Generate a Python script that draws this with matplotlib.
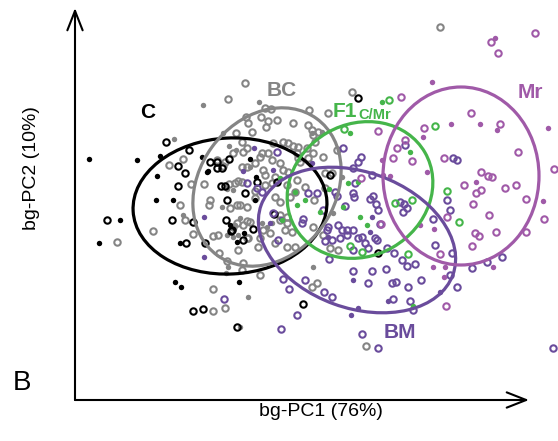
import numpy as np
import matplotlib
matplotlib.use('Agg')
import matplotlib.pyplot as plt
from matplotlib.patches import Ellipse, FancyArrowPatch

plt.rcParams['font.family'] = ['Liberation Sans', 'DejaVu Sans']

# bg-PCA scores (PC1, PC2), filled = one sex, open = the other
c_filled = [(-21.1, 7.1), (-16.3, 7.0), (-14.0, 7.4), (-9.8, 7.3), (-9.2, 5.9), (-14.3, 5.4),
            (-14.4, 3.0), (-12.7, 3.0), (-18.0, 1.0), (-20.1, -1.3), (-12.0, -1.3), (-6.3, -1.2),
            (-12.5, -5.2), (-11.9, -5.7), (-6.1, -5.2), (-5.0, 7.1), (-9.3, 5.8), (-4.4, 5.3),
            (-4.5, 3.0), (-7.0, 0.5), (-5.6, -0.3)]
c_open = [(-13.4, 8.8), (-11.1, 8.0), (-12.2, 6.4), (-11.5, 5.7), (-9.0, 6.8), (-8.3, 6.8),
          (-8.3, 6.2), (-7.8, 6.2), (-7.1, 7.1), (-12.2, 4.4), (-7.9, 4.4), (-7.5, 4.4),
          (-7.3, 3.0), (-19.3, 1.0), (-12.8, 1.0), (-10.7, 0.8), (-7.4, 1.0), (-6.9, -0.1),
          (-11.4, -1.3), (-9.5, -1.3), (-10.7, -8.1), (-9.7, -7.9), (-6.3, -9.7), (-6.8, 0.0),
          (-4.7, 0.1), (-5.7, -1.0), (-5.5, 3.7), (-4.3, 4.8), (-2.3, 4.8), (-2.6, 1.6),
          (0.3, -7.4), (3.0, 5.5), (5.8, 13.2), (7.8, -2.3)]

bc_filled = [(-12.6, 9.1), (-9.7, 12.5), (-7.1, 8.4), (-7.7, 9.7), (-7.3, 4.1), (-11.7, 1.5),
             (-6.5, 0.5), (-7.3, -0.5), (-7.2, -3.7), (-7.4, -4.3), (-6.4, 8.0), (-5.0, 6.3),
             (-6.7, 4.0), (-7.8, 2.3), (-6.0, 1.2), (-6.2, -0.5), (-6.7, -0.7), (-4.1, 12.8),
             (1.2, 9.7), (2.2, 9.8), (4.2, 5.3), (3.3, 1.7), (-2.8, 0.7), (-3.8, 0.7),
             (-3.3, 0.3), (1.3, -3.7), (-5.2, -6.7), (-6.0, -9.7)]
bc_open = [(-7.2, 13.1), (-11.7, 7.1), (-13.1, 6.5), (-8.3, 7.0), (-7.5, 6.8), (-7.7, 6.4),
           (-6.7, 7.7), (-6.4, 9.7), (-10.9, 4.6), (-9.6, 4.6), (-6.5, 4.7), (-6.2, 4.9),
           (-12.0, 2.5), (-9.0, 3.0), (-9.1, 2.5), (-6.3, 2.5), (-18.3, -1.2), (-14.7, -0.1),
           (-10.7, -0.4), (-8.7, -0.6), (-8.2, -0.5), (-8.1, -2.3), (-6.2, -2.0), (-7.3, -3.1),
           (-8.7, -5.9), (-7.5, -7.8), (-8.7, -8.1), (-5.2, 10.7), (-3.2, 10.9), (-2.3, 11.0),
           (-4.8, 9.8), (-3.4, 10.3), (-1.2, 8.7), (-1.7, 8.8), (-0.7, 8.4), (-3.2, 7.7),
           (-3.8, 7.7), (-5.7, 7.8), (-5.8, 6.3), (-5.3, 6.3), (-4.5, 6.7), (-3.7, 6.0),
           (-3.5, 5.5), (-1.7, 6.0), (-1.2, 5.8), (-2.0, 6.7), (-5.8, 4.8), (-7.1, 4.6),
           (-4.5, 3.9), (-3.5, 4.5), (-2.8, 4.7), (-2.5, 5.3), (-4.5, 3.2), (-7.0, 2.2),
           (-6.0, 2.5), (-5.3, 2.3), (-6.3, 0.7), (-5.7, 0.5), (-6.7, 0.3), (-5.0, 0.8),
           (-5.2, -0.8), (-4.2, -1.7), (-4.0, -0.8), (-3.7, 0.0), (-3.0, -0.3), (-2.0, 1.0),
           (-1.3, 0.7), (-11.5, 1.0), (-2.5, 3.3), (-2.0, 2.8), (-1.3, 4.5), (-1.0, 3.3),
           (-0.2, 8.3), (-0.3, 7.7), (1.3, 7.7), (0.8, 7.2), (0.0, 6.8), (1.3, 9.5),
           (2.5, 5.7), (3.2, 5.7), (-0.3, 5.0), (0.5, 4.3), (-0.5, 3.8), (1.4, 3.0),
           (2.5, 4.2), (1.3, 0.3), (3.0, -1.8), (3.8, -2.0), (-0.5, -1.7), (-5.5, 14.7),
           (5.2, 13.8), (-3.5, 12.2), (-2.9, 12.1), (0.9, 12.0), (-5.4, 11.3), (-3.9, 11.3),
           (-0.7, 10.7), (2.8, 11.7), (0.8, 10.5), (1.2, 10.0), (1.8, 9.8), (1.5, 8.8),
           (-2.7, 8.7), (-5.3, 8.2), (-5.8, 8.8), (-4.0, 7.3), (-2.8, 7.0), (0.7, 8.2),
           (-0.2, 7.2), (3.7, 8.0), (2.3, 7.3), (-2.0, 1.5), (-1.3, 1.3), (-5.3, 0.9),
           (-5.3, -0.8), (-2.5, -1.3), (-1.3, -1.7), (-0.8, -0.2), (-1.5, 0.0), (2.3, -0.5),
           (1.7, -5.3), (1.2, -5.7), (-4.0, -4.5), (6.6, -11.6), (-5.8, -4.0), (-5.7, -3.3),
           (14.0, 20.3)]

f1_filled = [(-2.0, 5.2), (-0.5, 3.8), (0.5, 3.0), (-0.3, 2.5), (2.9, 4.1), (4.8, 4.7),
             (5.8, 4.8), (4.3, 2.3), (6.0, 1.3), (2.0, 1.8), (6.7, 0.5), (8.2, 12.8),
             (11.0, 7.8), (11.3, -7.6), (-1.8, 1.0), (5.0, 9.7)]
f1_open = [(8.9, 13.0), (4.4, 10.1), (13.5, 10.4), (14.7, 3.9), (11.2, 3.0), (9.5, 2.7),
           (15.9, 0.8), (10.8, -2.4), (5.0, -1.6), (6.2, -2.2)]

bm_filled = [(-9.6, 1.3), (-9.6, -2.7), (-4.6, 8.2), (-2.7, 6.0), (-5.7, 5.9), (-3.0, 0.7),
             (-1.9, 1.1), (1.2, 6.7), (7.2, 1.3), (7.0, -0.2), (2.8, -0.7), (5.3, -5.0),
             (8.8, -7.1), (5.8, -7.8), (5.1, -8.5), (14.0, -6.2)]
bm_open = [(-7.6, -6.9), (-5.3, 4.7), (-4.3, 4.2), (-3.8, 3.8), (-2.3, 7.8), (-2.7, 1.7),
           (-2.2, -1.0), (6.1, 7.3), (5.8, 6.8), (5.3, 6.2), (4.3, 8.2), (7.2, 5.5),
           (5.5, 4.7), (0.8, 3.7), (1.7, 3.7), (3.5, 3.8), (3.7, 3.4), (5.3, 3.7),
           (5.4, 3.3), (4.5, 2.4), (7.3, 3.4), (7.0, 3.1), (7.6, 2.6), (7.8, 2.0),
           (8.0, 0.6), (10.0, 2.8), (10.4, 2.6), (10.7, 2.2), (10.3, 1.8), (0.3, 1.1),
           (2.3, 2.0), (2.7, 0.0), (3.8, 0.5), (4.2, 0.0), (4.7, 0.0), (5.3, 0.0),
           (6.2, -0.7), (5.8, -0.8), (6.5, -1.3), (4.0, -0.8), (3.2, -1.0), (5.3, -2.0),
           (6.8, -1.8), (7.7, -1.0), (8.7, -1.8), (0.2, 0.7), (2.8, 0.3), (4.7, -0.5),
           (2.5, -1.1), (2.9, -2.9), (7.5, -0.8), (9.4, -2.3), (5.3, -4.1), (7.2, -4.1),
           (8.6, -3.9), (6.8, -5.3), (9.2, -5.3), (9.6, -5.2), (9.3, -6.9), (0.5, -5.0),
           (-1.7, -4.9), (-1.1, -5.9), (2.4, -6.2), (3.2, -6.7), (-0.3, -8.5), (-1.9, -9.9),
           (6.2, -10.4), (7.8, -11.8), (10.5, 8.5), (15.3, 7.2), (15.7, 7.0), (14.7, 3.0),
           (15.0, 2.0), (13.3, 1.1), (13.5, -1.5), (15.2, -2.3), (10.2, -3.0), (10.7, -3.6),
           (11.5, -3.4), (15.0, -4.5), (17.2, -3.8), (18.7, -3.2), (20.2, -2.7), (12.1, -5.0),
           (10.8, -5.7), (15.7, -5.7), (11.0, -7.1), (11.3, -8.0), (25.3, -11.8)]

mr_filled = [(13.2, 14.8), (15.1, 10.6), (18.0, 10.6), (19.7, 10.0), (24.8, 10.2), (12.3, 9.3),
             (12.7, 5.8), (17.6, 4.8), (24.3, 2.9), (13.4, 0.1), (13.3, -3.7), (14.5, -3.7),
             (14.4, -4.7), (19.3, -3.7), (8.2, 7.0), (8.3, 5.5), (9.0, 5.4), (12.0, 0.5),
             (19.5, 19.2)]
mr_open = [(23.5, 19.7), (19.1, 18.8), (19.8, 17.7), (10.1, 13.3), (12.4, 10.2), (17.1, 11.7),
           (20.0, 10.6), (11.2, 6.9), (14.4, 7.2), (21.8, 7.8), (18.1, 5.8), (18.8, 5.4),
           (19.2, 5.3), (16.4, 4.5), (18.1, 4.0), (17.6, 3.7), (20.5, 4.2), (21.6, 4.5),
           (25.4, 6.1), (22.6, 3.1), (17.3, 2.6), (14.7, 1.3), (18.9, 1.5), (24.4, 1.1),
           (22.6, -0.2), (17.5, -0.3), (17.9, -0.6), (19.6, -0.2), (17.2, -1.6), (14.0, -2.4),
           (14.6, -7.6), (7.8, 9.9), (10.5, 9.0), (9.7, 8.2), (9.3, 7.2), (6.1, 5.2), (8.1, 0.6)]

# group ellipses: centre x, centre y, width, height, angle
ell_c = (-7.0, 2.4, 19.4, 13.6, 3)
ell_bc = (-3.3, 4.3, 16.9, 13.6, 54)
ell_f1 = (6.0, 4.0, 15.0, 13.2, 30)
ell_bm = (5.7, -1.0, 20.4, 13.6, -20)
ell_mr = (16.1, 5.4, 15.6, 17.8, 0)

col_c = '#000000'
col_bc = '#858585'
col_f1 = '#45b54a'
col_bm = '#6a4c9c'
col_mr = '#a05aa8'

fig = plt.figure(figsize=(5.58, 4.41), dpi=100)
ax = fig.add_axes([0, 0, 1, 1])
ax.set_xlim(-30, 25.8)
ax.set_ylim(-21.1, 23.0)
ax.axis('off')

groups = [
    (bc_filled, bc_open, col_bc),
    (c_filled, c_open, col_c),
    (bm_filled, bm_open, col_bm),
    (f1_filled, f1_open, col_f1),
    (mr_filled, mr_open, col_mr),
]
for filled, hollow, col in groups:
    f = np.array(filled)
    h = np.array(hollow)
    ax.plot(h[:, 0], h[:, 1], 'o', ms=4.6, mfc='none', mec=col, mew=1.5, zorder=2)
    ax.plot(f[:, 0], f[:, 1], 'o', ms=3.9, mfc=col, mec='none', zorder=2)

for e, col in [(ell_c, col_c), (ell_bc, col_bc), (ell_f1, col_f1), (ell_bm, col_bm), (ell_mr, col_mr)]:
    ax.add_patch(Ellipse((e[0], e[1]), e[2], e[3], angle=e[4], fill=False,
                         ec=col, lw=2.3, zorder=3))

# axes with open arrow heads
for end in [(-22.5, 22.2), (22.9, -17.0)]:
    ax.add_patch(FancyArrowPatch((-22.5, -17.0), end,
                                 arrowstyle='->,head_length=1.4,head_width=0.55',
                                 mutation_scale=10, lw=1.5, color='black',
                                 shrinkA=0, shrinkB=0, zorder=4))

ax.text(2.1, -18.2, 'bg-PC1 (76%)', fontsize=14, ha='center', va='center')
ax.text(-26.8, 6.2, 'bg-PC2 (10%)', fontsize=14, ha='center', va='center', rotation=90)
ax.text(-27.8, -15.3, 'B', fontsize=20, ha='center', va='center')

lab = dict(fontsize=15, fontweight='bold', zorder=5)
ax.text(-15.2, 11.7, 'C', color=col_c, ha='center', va='center', **lab)
ax.text(-1.8, 14.0, 'BC', color=col_bc, ha='center', va='center', **lab)
ax.text(3.3, 11.3, 'F1', color=col_f1, ha='left', va='baseline', **lab)
ax.text(5.8, 11.1, 'C/Mr', color=col_f1, ha='left', va='baseline',
        fontsize=10.5, fontweight='bold', zorder=5)
ax.text(23.0, 13.8, 'Mr', color=col_mr, ha='center', va='center', **lab)
ax.text(10.0, -10.3, 'BM', color=col_bm, ha='center', va='center', **lab)

fig.savefig('out.png', dpi=100)
